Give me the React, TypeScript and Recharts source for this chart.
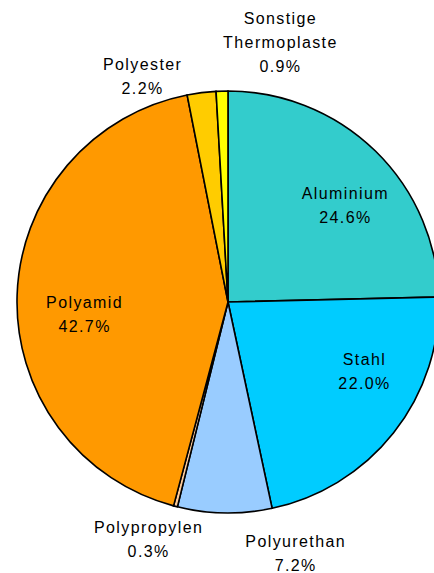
import React from 'react';
import { PieChart, Pie, Cell } from 'recharts';

const categories = ['Aluminium', 'Stahl', 'Polyurethan', 'Polypropylen', 'Polyamid', 'Polyester', 'Sonstige Thermoplaste'];
const shares = [24.6, 22.0, 7.2, 0.3, 42.7, 2.2, 0.9];
const labelLines = [['Aluminium'], ['Stahl'], ['Polyurethan'], ['Polypropylen'], ['Polyamid'], ['Polyester'], ['Sonstige', 'Thermoplaste']];

const colors = ['#33CCCC', '#00CCFF', '#99CCFF', '#FFCC99', '#FF9900', '#FFCC00', '#FFFF00'];
// label placement: angle (deg, clockwise from 12 o'clock) and distance as fraction of radius
const labelPlacement = [
  { a: 50.5, r: 0.721 },
  { a: 116.8, r: 0.725 },
  { a: 164.9, r: 1.232 },
  { a: 198.5, r: 1.185 },
  { a: 265.2, r: 0.682 },
  { a: 339.3, r: 1.145 },
  { a: 11.4, r: 1.257 },
];

const data = categories.map((name, i) => ({ name, value: shares[i] }));

const LINE = 24;

const renderLabel = (props: any) => {
  const { cx, cy, outerRadius, index } = props;
  const p = labelPlacement[index];
  const rad = (p.a * Math.PI) / 180;
  const x = cx + outerRadius * p.r * Math.sin(rad);
  const y = cy - outerRadius * p.r * Math.cos(rad);
  const lines = [...labelLines[index], shares[index].toFixed(1) + '%'];
  const n = lines.length;
  return (
    <text
      x={x}
      y={y}
      textAnchor="middle"
      fill="#000"
      fontFamily="'Liberation Sans', Arial, sans-serif"
      fontSize={16}
      letterSpacing={1.4}
    >
      {lines.map((t, k) => (
        <tspan key={k} x={x} y={y + (k - (n - 1) / 2) * LINE + 5.7}>
          {t}
        </tspan>
      ))}
    </text>
  );
};

export default function App() {
  return (
    <div style={{ position: 'absolute', left: 0, top: 0, width: 434, height: 573, background: '#fff' }}>
      <PieChart width={434} height={573} margin={{ top: 0, right: 0, bottom: 0, left: 0 }}>
        <Pie
          data={data}
          dataKey="value"
          nameKey="name"
          cx={228}
          cy={302}
          outerRadius={211}
          startAngle={90}
          endAngle={-270}
          stroke="#000"
          strokeWidth={1.6}
          label={renderLabel}
          labelLine={false}
          isAnimationActive={false}
        >
          {data.map((d, i) => (
            <Cell key={d.name} fill={colors[i]} />
          ))}
        </Pie>
      </PieChart>
    </div>
  );
}
